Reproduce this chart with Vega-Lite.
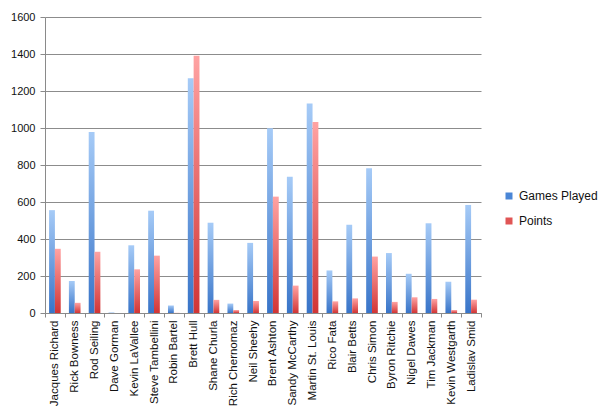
{
  "$schema": "https://vega.github.io/schema/vega-lite/v6.json",
  "width": 436,
  "height": 296,
  "autosize": {"type": "none"},
  "padding": {"left": 45, "top": 17, "right": 119, "bottom": 99},
  "background": "white",
  "config": {
    "font": "Liberation Sans",
    "view": {"stroke": null}
  },
  "data": {
    "values": [
      {"player": "Jacques Richard", "series": "Games Played", "value": 556},
      {"player": "Jacques Richard", "series": "Points", "value": 347},
      {"player": "Rick Bowness", "series": "Games Played", "value": 173},
      {"player": "Rick Bowness", "series": "Points", "value": 55},
      {"player": "Rod Seiling", "series": "Games Played", "value": 979},
      {"player": "Rod Seiling", "series": "Points", "value": 331},
      {"player": "Dave Gorman", "series": "Games Played", "value": 3},
      {"player": "Dave Gorman", "series": "Points", "value": 0},
      {"player": "Kevin LaVallee", "series": "Games Played", "value": 366},
      {"player": "Kevin LaVallee", "series": "Points", "value": 236},
      {"player": "Steve Tambellini", "series": "Games Played", "value": 553},
      {"player": "Steve Tambellini", "series": "Points", "value": 310},
      {"player": "Robin Bartel", "series": "Games Played", "value": 41},
      {"player": "Robin Bartel", "series": "Points", "value": 1},
      {"player": "Brett Hull", "series": "Games Played", "value": 1269},
      {"player": "Brett Hull", "series": "Points", "value": 1391},
      {"player": "Shane Churla", "series": "Games Played", "value": 488},
      {"player": "Shane Churla", "series": "Points", "value": 71},
      {"player": "Rich Chernomaz", "series": "Games Played", "value": 51},
      {"player": "Rich Chernomaz", "series": "Points", "value": 16},
      {"player": "Neil Sheehy", "series": "Games Played", "value": 379},
      {"player": "Neil Sheehy", "series": "Points", "value": 65},
      {"player": "Brent Ashton", "series": "Games Played", "value": 998},
      {"player": "Brent Ashton", "series": "Points", "value": 629},
      {"player": "Sandy McCarthy", "series": "Games Played", "value": 736},
      {"player": "Sandy McCarthy", "series": "Points", "value": 148},
      {"player": "Martin St. Louis", "series": "Games Played", "value": 1133},
      {"player": "Martin St. Louis", "series": "Points", "value": 1033},
      {"player": "Rico Fata", "series": "Games Played", "value": 230},
      {"player": "Rico Fata", "series": "Points", "value": 63},
      {"player": "Blair Betts", "series": "Games Played", "value": 477},
      {"player": "Blair Betts", "series": "Points", "value": 79},
      {"player": "Chris Simon", "series": "Games Played", "value": 782},
      {"player": "Chris Simon", "series": "Points", "value": 305},
      {"player": "Byron Ritchie", "series": "Games Played", "value": 324},
      {"player": "Byron Ritchie", "series": "Points", "value": 60},
      {"player": "Nigel Dawes", "series": "Games Played", "value": 212},
      {"player": "Nigel Dawes", "series": "Points", "value": 85},
      {"player": "Tim Jackman", "series": "Games Played", "value": 485},
      {"player": "Tim Jackman", "series": "Points", "value": 76},
      {"player": "Kevin Westgarth", "series": "Games Played", "value": 169},
      {"player": "Kevin Westgarth", "series": "Points", "value": 16},
      {"player": "Ladislav Smid", "series": "Games Played", "value": 584},
      {"player": "Ladislav Smid", "series": "Points", "value": 72}
    ]
  },
  "mark": {"type": "bar", "strokeWidth": 0},
  "encoding": {
    "x": {
      "field": "player",
      "type": "nominal",
      "sort": null,
      "scale": {"paddingInner": 0, "paddingOuter": 0},
      "axis": {
        "title": null,
        "tickBand": "extent",
        "tickSize": 4,
        "tickColor": "#8a8a8a",
        "domainColor": "#8a8a8a",
        "labelAngle": -90,
        "labelAlign": "right",
        "labelBaseline": "middle",
        "labelPadding": 3,
        "labelFontSize": 11.5,
        "labelColor": "#111",
        "labelOverlap": false,
        "labelLimit": 0,
        "grid": false
      }
    },
    "xOffset": {
      "field": "series",
      "sort": ["Games Played", "Points"],
      "scale": {"paddingInner": 0, "paddingOuter": 0.7}
    },
    "y": {
      "field": "value",
      "type": "quantitative",
      "scale": {"domain": [0, 1600], "nice": false},
      "axis": {
        "title": null,
        "values": [0, 200, 400, 600, 800, 1000, 1200, 1400, 1600],
        "format": "d",
        "grid": true,
        "gridColor": "#8c8c8c",
        "gridWidth": 1,
        "domainColor": "#8a8a8a",
        "tickColor": "#8a8a8a",
        "tickSize": 5,
        "labelPadding": 5,
        "labelFontSize": 11,
        "labelColor": "#111"
      }
    },
    "color": {
      "condition": {
        "test": "datum.series === 'Points'",
        "value": {
          "gradient": "linear", "x1": 0, "y1": 0, "x2": 0, "y2": 1,
          "stops": [{"offset": 0, "color": "#ffa3a3"}, {"offset": 1, "color": "#d13535"}]
        }
      },
      "value": {
        "gradient": "linear", "x1": 0, "y1": 0, "x2": 0, "y2": 1,
        "stops": [{"offset": 0, "color": "#a6cbf7"}, {"offset": 1, "color": "#3874c8"}]
      }
    },
    "stroke": {
      "field": "series",
      "type": "nominal",
      "sort": ["Games Played", "Points"],
      "scale": {"domain": ["Games Played", "Points"], "range": ["#4a86d6", "#e05555"]},
      "legend": {
        "title": null,
        "orient": "none",
        "legendX": 458,
        "legendY": 173,
        "symbolType": "square",
        "symbolSize": 12.25,
        "symbolStrokeWidth": 3.5,
        "labelFontSize": 12,
        "labelColor": "#111",
        "labelOffset": 4,
        "rowPadding": 7
      }
    }
  }
}
